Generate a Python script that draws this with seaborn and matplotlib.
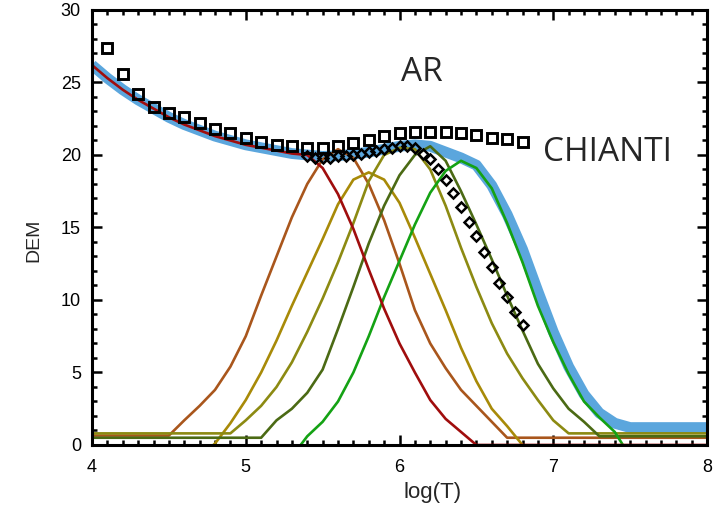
import matplotlib
matplotlib.use("Agg")
import numpy as np
import pandas as pd
import matplotlib.pyplot as plt
import seaborn as sns
from matplotlib.ticker import MultipleLocator

sns.set_style("ticks")
plt.rcParams['font.family'] = ['Liberation Sans', 'DejaVu Sans']

# ---- data -------------------------------------------------------------
logT = np.round(np.linspace(4.0, 8.0, 41), 1)

total_dem = [26.2, 25.3, 24.5, 23.8, 23.2, 22.6, 22.1, 21.7, 21.3, 21.0,
             20.7, 20.5, 20.3, 20.1, 20.0, 19.9, 19.95, 20.05, 20.2, 20.4,
             20.6, 20.7, 20.6, 20.2, 19.8, 19.3, 17.9, 15.9, 13.5, 10.6,
             7.8, 5.4, 3.5, 2.2, 1.5, 1.2, 1.2, 1.2, 1.2, 1.2, 1.2]

comp_red = [26.2, 25.3, 24.5, 23.8, 23.2, 22.6, 22.1, 21.7, 21.3, 21.0,
            20.7, 20.5, 20.3, 20.1, 20.0, 19.1, 17.3, 14.9, 12.1, 9.4,
            7.0, 5.0, 3.1, 1.8, 0.9, 0.0, 0.0, 0.0, 0.0, 0.0,
            0.0, 0.0, 0.0, 0.0, 0.0, 0.0, 0.0, 0.0, 0.0, 0.0, 0.0]

comp_brown = [0.65, 0.65, 0.65, 0.65, 0.65, 0.65, 1.7, 2.7, 3.8, 5.4,
              7.5, 10.3, 13.0, 15.7, 18.0, 19.7, 20.4, 19.8, 18.0, 15.5,
              12.5, 9.3, 7.0, 5.3, 3.8, 2.7, 1.6, 0.5, 0.5, 0.5,
              0.5, 0.5, 0.5, 0.5, 0.5, 0.5, 0.5, 0.5, 0.5, 0.5, 0.5]

comp_gold = [-0.8, -0.8, -0.8, -0.8, -0.8, -0.8, -0.8, -0.8, 0.1, 1.5,
             3.1, 5.0, 7.2, 9.6, 11.9, 14.2, 16.6, 18.3, 18.8, 18.3,
             16.7, 14.3, 11.8, 9.3, 6.7, 4.4, 2.5, 1.3, 0.0, -0.8,
             -0.8, -0.8, -0.8, -0.8, -0.8, -0.8, -0.8, -0.8, -0.8, -0.8, -0.8]

comp_olive = [0.8, 0.8, 0.8, 0.8, 0.8, 0.8, 0.8, 0.8, 0.8, 0.8,
              1.7, 2.7, 4.0, 5.7, 7.8, 10.1, 12.6, 15.3, 18.2, 20.0,
              20.5, 20.4, 19.0, 16.5, 13.6, 10.9, 8.4, 6.3, 4.6, 3.1,
              1.7, 0.8, 0.8, 0.8, 0.8, 0.8, 0.8, 0.8, 0.8, 0.8, 0.8]

comp_dkgreen = [0.5, 0.5, 0.5, 0.5, 0.5, 0.5, 0.5, 0.5, 0.5, 0.5,
                0.5, 0.5, 1.7, 2.5, 3.6, 5.2, 8.0, 10.9, 13.9, 16.5,
                18.6, 20.0, 20.6, 19.6, 17.5, 15.2, 12.8, 10.3, 7.9, 5.6,
                3.9, 2.5, 1.6, 0.6, 0.6, 0.6, 0.6, 0.6, 0.6, 0.6, 0.6]

comp_green = [-0.8, -0.8, -0.8, -0.8, -0.8, -0.8, -0.8, -0.8, -0.8, -0.8,
              -0.8, -0.8, -0.8, -0.8, 0.6, 1.6, 3.0, 5.0, 7.5, 10.2,
              12.7, 15.2, 17.4, 18.9, 19.6, 19.1, 17.7, 15.3, 12.6, 9.6,
              7.1, 4.9, 3.0, 1.9, 0.9, -0.8, -0.8, -0.8, -0.8, -0.8, -0.8]

ar_logT = np.round(np.linspace(4.1, 6.8, 28), 2)
ar_dem = [27.4, 25.6, 24.2, 23.3, 22.9, 22.6, 22.2, 21.8, 21.5, 21.2,
          20.9, 20.7, 20.6, 20.5, 20.5, 20.6, 20.8, 21.0, 21.3, 21.5,
          21.6, 21.6, 21.6, 21.5, 21.4, 21.2, 21.1, 20.9]

chianti_logT = np.round(np.linspace(5.4, 6.8, 29), 2)
chianti_dem = [19.9, 19.8, 19.8, 19.8, 19.9, 19.9, 20.0, 20.1, 20.2, 20.3,
               20.4, 20.5, 20.6, 20.6, 20.5, 20.1, 19.7, 19.0, 18.3, 17.4,
               16.4, 15.4, 14.4, 13.3, 12.3, 11.2, 10.2, 9.2, 8.3]

x_ticks = [4, 5, 6, 7, 8]
y_ticks = [0, 5, 10, 15, 20, 25, 30]

components = [
    (comp_brown, "#a9561c"),
    (comp_gold, "#a88a08"),
    (comp_olive, "#8c8a12"),
    (comp_dkgreen, "#4b6a14"),
    (comp_green, "#14a214"),
    (comp_red, "#a00d0d"),
]

# ---- figure -----------------------------------------------------------
fig = plt.figure(figsize=(7.21, 5.17), dpi=100)
ax = fig.add_axes([0.1276, 0.1393, 0.853, 0.8414])

sns.lineplot(x=logT, y=total_dem, color="#5ba6dd", lw=7.8, ax=ax,
             estimator=None, sort=False, solid_capstyle="butt")
for vals, col in components:
    sns.lineplot(x=logT, y=vals, color=col, lw=1.9, ax=ax,
                 estimator=None, sort=False)

sns.lineplot(x=ar_logT, y=ar_dem, ax=ax, estimator=None, sort=False,
             linestyle="", marker="s", markersize=6.8,
             markerfacecolor="none", markeredgecolor="black",
             markeredgewidth=2.1)
sns.lineplot(x=chianti_logT, y=chianti_dem, ax=ax, estimator=None, sort=False,
             linestyle="", marker="D", markersize=4.6,
             markerfacecolor="none", markeredgecolor="black",
             markeredgewidth=1.8)

ax.text(6.146, 25.7, "AR", fontsize=24, family=["Open Sans", "DejaVu Sans"],
        ha="center", va="center")
ax.text(7.356, 20.2, "CHIANTI", fontsize=24, family=["Open Sans", "DejaVu Sans"],
        ha="center", va="center")

ax.set_xlim(4, 8)
ax.set_ylim(0, 30)
ax.set_xticks(x_ticks)
ax.set_yticks(y_ticks)
ax.set_xticklabels([str(v) for v in x_ticks])
ax.set_yticklabels([str(v) for v in y_ticks])
ax.xaxis.set_minor_locator(MultipleLocator(0.1))
ax.yaxis.set_minor_locator(MultipleLocator(1))
ax.tick_params(which="both", direction="in", top=True, right=True,
               width=1.8, colors="black", labelsize=13)
ax.tick_params(which="major", length=7.5)
ax.tick_params(which="minor", length=3.8)
ax.tick_params(axis="x", pad=10)
ax.tick_params(axis="y", pad=8)
for sp in ax.spines.values():
    sp.set_linewidth(2.2)
    sp.set_color("black")
    sp.set_visible(True)

ax.set_xlabel("log(T)", fontsize=16)
ax.set_ylabel("DEM", fontsize=14)
ax.xaxis.set_label_coords(0.553, -0.085)
ax.yaxis.set_label_coords(-0.081, 0.471)

fig.savefig("out.png", dpi=100)
